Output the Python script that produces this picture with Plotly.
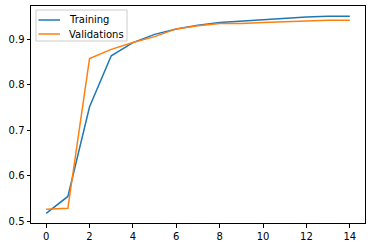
import plotly.graph_objects as go

epochs = list(range(15))
training = [0.518, 0.555, 0.752, 0.864, 0.893, 0.911, 0.923, 0.931, 0.937, 0.940,
            0.944, 0.946, 0.949, 0.951, 0.951]
validations = [0.527, 0.529, 0.858, 0.878, 0.893, 0.906, 0.923, 0.930, 0.935, 0.935,
               0.937, 0.939, 0.941, 0.942, 0.942]
series_names = ["Training", "Validations"]
series_colors = ["#1f77b4", "#ff7f0e"]
x_ticks = [0, 2, 4, 6, 8, 10, 12, 14]
y_ticks = [0.5, 0.6, 0.7, 0.8, 0.9]

fig = go.Figure()
for name, vals, col in zip(series_names, [training, validations], series_colors):
    fig.add_trace(go.Scatter(x=epochs, y=vals, mode="lines", name=name,
                             line=dict(color=col, width=1.5), showlegend=False))

axis_common = dict(showgrid=False, zeroline=False, showline=True, linecolor="#000000",
                   linewidth=1, mirror=True, ticks="outside", ticklen=3.5, tickwidth=0.8,
                   tickcolor="#000000", tickfont=dict(family="DejaVu Sans", size=10, color="#000000"))

# legend drawn as a matplotlib-style box (paper coordinates)
W, H = 334.0, 217.0
def px(x):
    return (x - 31) / W
def py(y):
    return 1 - (y - 6) / H

shapes = [dict(type="rect", xref="paper", yref="paper",
               x0=px(36), x1=px(127), y0=py(41), y1=py(10),
               line=dict(color="#cccccc", width=1), fillcolor="rgba(255,255,255,0.8)", layer="above")]
annotations = []
for i, (name, col) in enumerate(zip(series_names, series_colors)):
    yrow = 20 + 14 * i
    shapes.append(dict(type="line", xref="paper", yref="paper",
                       x0=px(38.5), x1=px(60), y0=py(yrow), y1=py(yrow),
                       line=dict(color=col, width=1.5), layer="above"))
    annotations.append(dict(xref="paper", yref="paper", x=px(67), y=py(yrow),
                            xanchor="left", yanchor="middle", text=name, showarrow=False,
                            font=dict(family="DejaVu Sans", size=10, color="#000000")))

fig.update_layout(
    width=372, height=248,
    margin=dict(l=31, r=7, t=6, b=25),
    paper_bgcolor="white", plot_bgcolor="white",
    showlegend=False,
    shapes=shapes, annotations=annotations,
    xaxis=dict(range=[-0.7, 14.7], tickvals=x_ticks, **axis_common),
    yaxis=dict(range=[0.4967, 0.9733], tickvals=y_ticks, tickformat=".1f", **axis_common),
)

fig.write_html("out.html")
